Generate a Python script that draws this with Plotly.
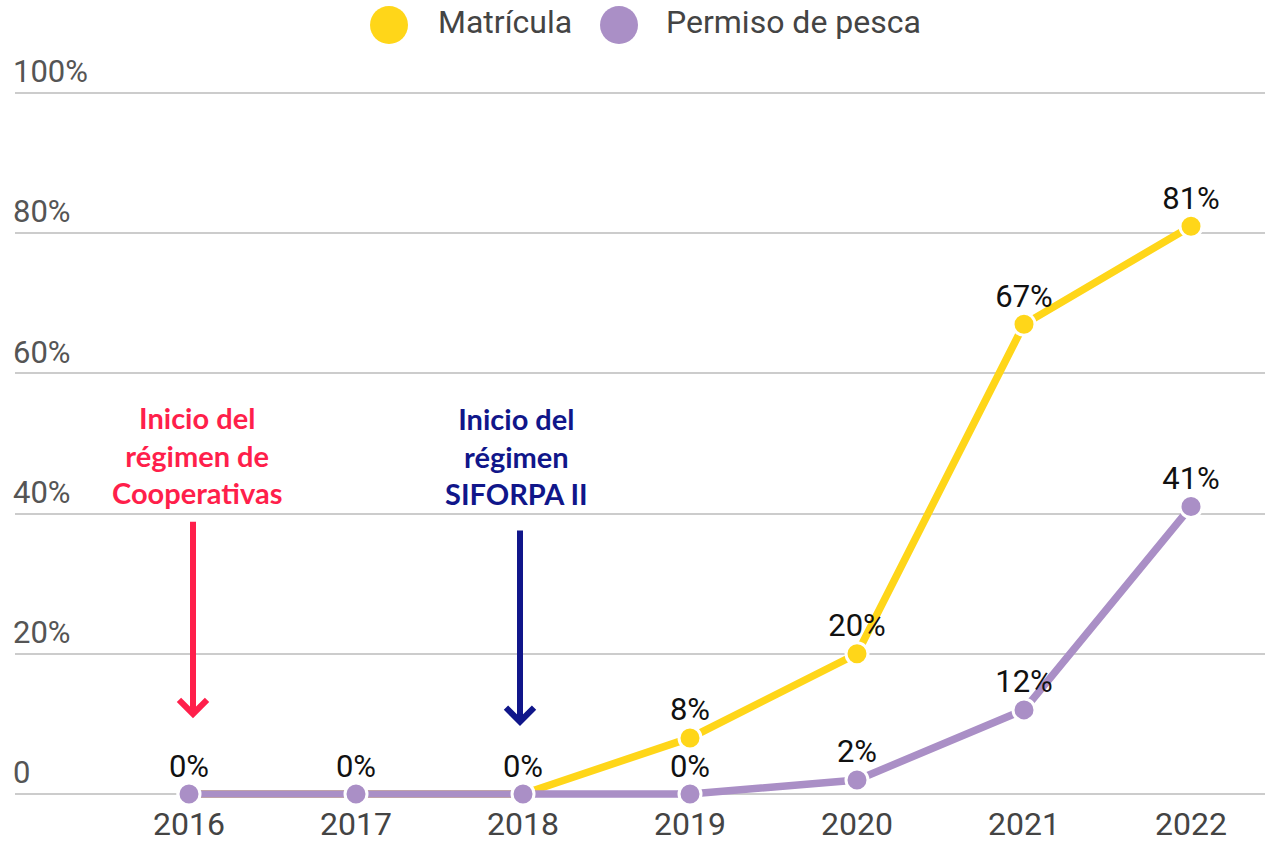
import plotly.graph_objects as go

years = [2016, 2017, 2018, 2019, 2020, 2021, 2022]
series_names = ["Matrícula", "Permiso de pesca"]
matricula = [0, 0, 0, 8, 20, 67, 81]
permiso = [0, 0, 0, 0, 2, 12, 41]
y_ticks = [0, 20, 40, 60, 80, 100]
y_tick_labels = ["0", "20%", "40%", "60%", "80%", "100%"]
colors = ["#FFD619", "#AA8FC6"]

events = [
    {"year": 2016, "text": "Inicio del<br>régimen de<br>Cooperativas", "color": "#FF1F4B"},
    {"year": 2018, "text": "Inicio del<br>régimen<br>SIFORPA II", "color": "#10168A"},
]

W, H = 1265, 842
ML, MR, MT, MB = 15, 0, 40, 40
px_per_unit = 7.01
y_zero_px = 794
ymax = (y_zero_px - MT) / px_per_unit
ymin = -((H - MB) - y_zero_px) / px_per_unit
x_px_2016 = 189
step = 167
xmin = years[0] - (x_px_2016 - ML) / step
xmax = years[0] + ((W - MR) - x_px_2016) / step

fig = go.Figure()
series = [
    (series_names[0], matricula, colors[0], True),
    (series_names[1], permiso, colors[1], False),
]
for name, vals, col, hide_zero in series:
    fig.add_trace(go.Scatter(
        x=years, y=vals, name=name, mode="lines+markers",
        line=dict(color=col, width=7.5),
        marker=dict(color=col, size=22, line=dict(color="white", width=3)),
        cliponaxis=False, showlegend=False, hoverinfo="skip",
    ))
for name, vals, col, hide_zero in series:
    fig.add_trace(go.Scatter(
        x=years, y=vals, name=name, mode="markers+text",
        marker=dict(size=14, color="rgba(0,0,0,0)"),
        text=[("" if (hide_zero and v == 0) else f"{v}%") for v in vals],
        textposition="top center",
        textfont=dict(family="Roboto", size=31, color="#111111"),
        cliponaxis=False, showlegend=False, hoverinfo="skip",
    ))

fig.update_xaxes(
    range=[xmin, xmax], tickvals=years, ticktext=[str(y) for y in years],
    showgrid=False, zeroline=False, showline=False, automargin=False,
    tickfont=dict(family="Roboto", size=32, color="#444444"),
)
fig.update_yaxes(
    range=[ymin, ymax], tickvals=y_ticks, ticktext=y_tick_labels,
    ticklabelposition="inside top", ticklabelstandoff=-5,
    showgrid=True, gridcolor="#CCCCCC",
    gridwidth=2, zeroline=False, showline=False, automargin=False,
    tickfont=dict(family="Roboto", size=31, color="#555555"),
)

annotations = []
shapes = []
for ev, shift_text, shift_arrow, ytxt, ytip, ay in [
    (events[0], 8, 4, 48.4, 10.8, -198),
    (events[1], -7, -3, 48.2, 9.7, -197),
]:
    annotations.append(dict(
        x=ev["year"], y=ytxt, xref="x", yref="y", xshift=shift_text,
        text=ev["text"], showarrow=False, align="center",
        font=dict(family="Lato", size=29, color=ev["color"], weight="bold"),
    ))
    annotations.append(dict(
        x=ev["year"], y=ytip, xref="x", yref="y", xshift=shift_arrow,
        text="", showarrow=True, ax=0, ay=ay, arrowhead=4, arrowsize=0.9,
        arrowwidth=6, arrowcolor=ev["color"], standoff=0,
    ))

plot_h = H - MT - MB
plot_w = W - ML - MR
def paper_x(px):
    return (px - ML) / plot_w
def paper_y(py):
    return ((H - MB) - py) / plot_h

for name, col, cx, tx in [
    (series_names[0], colors[0], 389, 436),
    (series_names[1], colors[1], 619, 664),
]:
    shapes.append(dict(
        type="circle", xref="paper", yref="paper",
        xsizemode="pixel", ysizemode="pixel",
        xanchor=paper_x(cx), yanchor=paper_y(25),
        x0=-19, x1=19, y0=-19, y1=19,
        fillcolor=col, line=dict(width=0),
    ))
    annotations.append(dict(
        x=paper_x(tx), y=paper_y(22), xref="paper", yref="paper",
        xanchor="left", yanchor="middle", text=name, showarrow=False,
        font=dict(family="Roboto", size=32, color="#444444"),
    ))

fig.update_layout(
    width=W, height=H, margin=dict(l=ML, r=MR, t=MT, b=MB, autoexpand=False),
    plot_bgcolor="white", paper_bgcolor="white",
    annotations=annotations, shapes=shapes, hovermode=False,
)
fig.write_html(
    "out.html",
    config={"displayModeBar": False},
    post_script="document.body.style.margin='0px';document.body.style.overflow='hidden';",
)
